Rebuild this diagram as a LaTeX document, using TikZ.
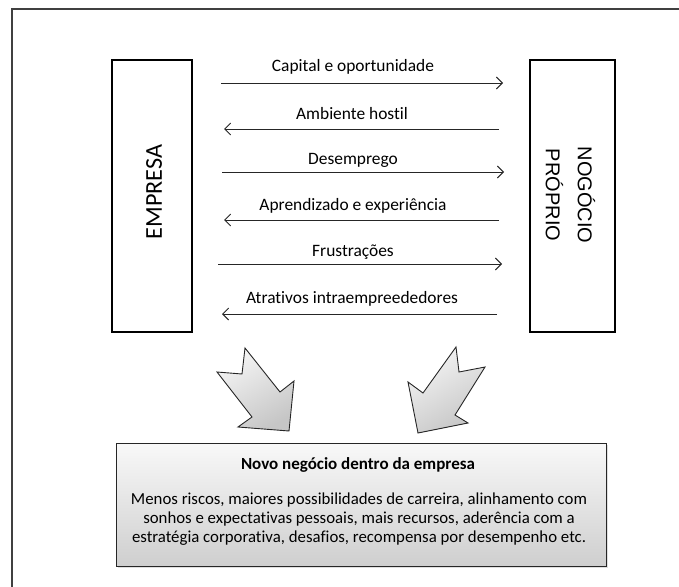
\documentclass[tikz,border=0pt]{standalone}
\usepackage{fontspec}
\setmainfont{Carlito}[Ligatures={NoCommon}]
\newfontfamily\arialfont{Liberation Sans}
\usetikzlibrary{arrows.meta,shadows}
\tikzset{
  flow/.style={draw=black!85, line width=0.9pt, -{Straight Barb[length=6pt,width=12pt,line width=0.9pt]}},
  lbl/.style={font=\fontsize{17.4}{20}\selectfont, inner sep=0pt},
  sidebox/.style={draw=black, line width=1.6pt, inner sep=0pt},
  blockarrow/.style={draw=black!85, line width=0.9pt, line join=miter, top color=gray!8, bottom color=gray!45, shading angle=30},
  resultbox/.style={draw=black!85, line width=1pt, top color=gray!5, bottom color=gray!38, inner sep=0pt, drop shadow={opacity=0.25, shadow xshift=1.5pt, shadow yshift=-1.5pt}},
}
\begin{document}
\begin{tikzpicture}[x=1pt,y=-1pt]
\useasboundingbox (0,0) rectangle (679,586);
\clip (0,0) rectangle (679,586);
% outer frame (extends past the right and bottom edges)
\draw[black!75, line width=2pt] (12,9) rectangle (720,640);
% side boxes
\node[sidebox, minimum width=80pt, minimum height=272pt] (empresa) at (152,196) {};
\node[sidebox, minimum width=85pt, minimum height=272pt] (negocio) at (572.5,196) {};
\node[rotate=90, font=\fontsize{24.2}{28}\selectfont, inner sep=0pt] (empresalbl) at (154,192) {EMPRESA};
\node[rotate=-90, font=\arialfont\fontsize{20}{32}\selectfont, align=center, inner sep=0pt] (negociolbl) at (570.5,195) {NOGÓCIO\\PRÓPRIO};
% flow arrows
\coordinate (a1s) at (221,83);  \coordinate (a1e) at (503,83);
\coordinate (a2s) at (499,129); \coordinate (a2e) at (224,129);
\coordinate (a3s) at (222,172); \coordinate (a3e) at (504,172);
\coordinate (a4s) at (499,220); \coordinate (a4e) at (224,220);
\coordinate (a5s) at (218,264); \coordinate (a5e) at (502,264);
\coordinate (a6s) at (497,314); \coordinate (a6e) at (222,314);
\draw[flow] (a1s) -- (a1e);
\draw[flow] (a2s) -- (a2e);
\draw[flow] (a3s) -- (a3e);
\draw[flow] (a4s) -- (a4e);
\draw[flow] (a5s) -- (a5e);
\draw[flow] (a6s) -- (a6e);
\node[lbl] (l1) at (353,67) {Capital e oportunidade};
\node[lbl] (l2) at (352,114) {Ambiente hostil};
\node[lbl] (l3) at (353,160) {Desemprego};
\node[lbl] (l4) at (353,206) {Aprendizado e experiência};
\node[lbl] (l5) at (353,252) {Frustrações};
\node[lbl] (l6) at (352,299) {Atrativos intraempreededores};
% block arrows
\draw[blockarrow] (217,372) -- (242,374) -- (245,348) -- (280,392) -- (294,381) -- (289,431) -- (238,427) -- (252,417) -- cycle;
\draw[blockarrow] (456,347) -- (423,393) -- (408,382) -- (418,433) -- (468,423) -- (455,415) -- (485,367) -- (459,372) -- cycle;
% result box
\node[resultbox, minimum width=490pt, minimum height=123pt] (novo) at (361,504.5) {};
\node[font=\bfseries\fontsize{17}{20}\selectfont, inner sep=0pt] (novotitle) at (358,465) {Novo negócio dentro da empresa};
\node[font=\fontsize{16.8}{19.3}\selectfont, align=center, inner sep=0pt] (novobody) at (359,519) {Menos riscos, maiores possibilidades de carreira, alinhamento com\\sonhos e expectativas pessoais, mais recursos, aderência com a\\estratégia corporativa, desafios, recompensa por desempenho etc.};
\end{tikzpicture}
\end{document}
